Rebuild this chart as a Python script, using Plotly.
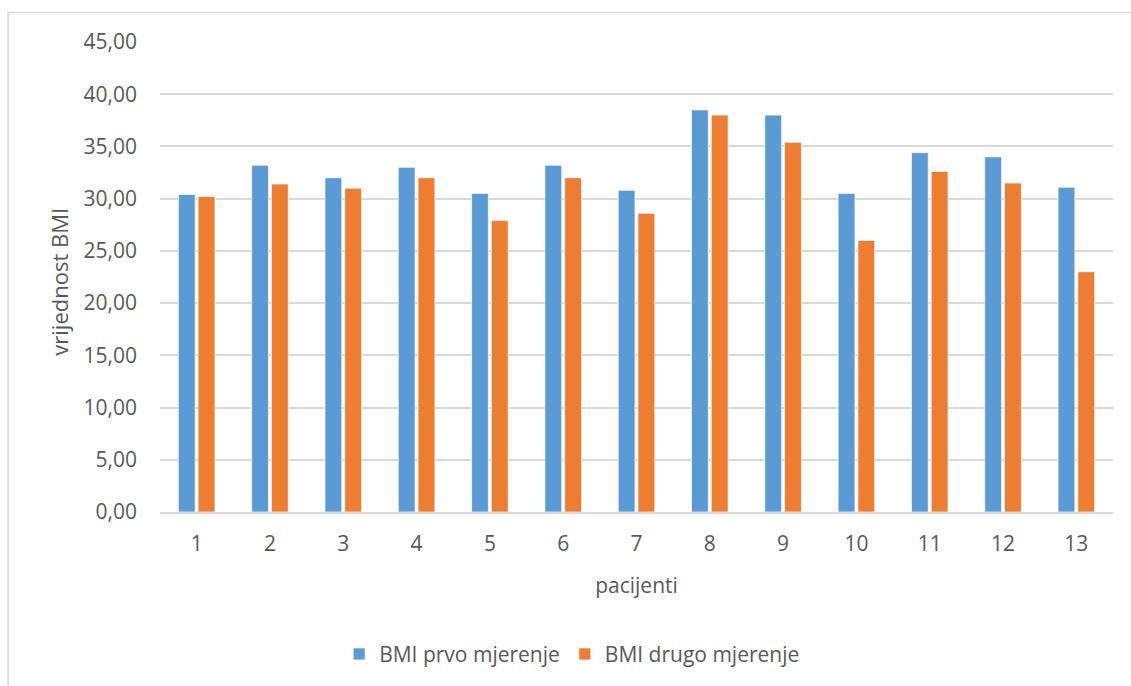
import plotly.graph_objects as go

# Patients and their BMI at the two measurements
pacijenti = ["1", "2", "3", "4", "5", "6", "7", "8", "9", "10", "11", "12", "13"]
bmi_prvo = [30.4, 33.2, 32.0, 33.0, 30.5, 33.2, 30.8, 38.5, 38.0, 30.5, 34.4, 34.0, 31.1]
bmi_drugo = [30.2, 31.4, 31.0, 32.0, 27.9, 32.0, 28.6, 38.0, 35.4, 26.0, 32.6, 31.5, 23.0]
y_ticks = [0, 5, 10, 15, 20, 25, 30, 35, 40, 45]

BLUE = "#5B9BD5"
ORANGE = "#ED7D31"
GRID = "#D9D9D9"
TEXT = "#595959"
FONT = "Open Sans"

fig = go.Figure()
fig.add_trace(go.Bar(
    x=pacijenti, y=bmi_prvo, name="BMI prvo mjerenje",
    marker=dict(color=BLUE, line=dict(color="rgba(255,255,255,0.7)", width=1)),
))
fig.add_trace(go.Bar(
    x=pacijenti, y=bmi_drugo, name="BMI drugo mjerenje",
    marker=dict(color=ORANGE, line=dict(color="rgba(255,255,255,0.7)", width=1)),
))

fig.update_layout(
    width=1131, height=686,
    margin=dict(l=160, r=18, t=42, b=173),
    paper_bgcolor="white", plot_bgcolor="white",
    separators=",.",
    barmode="group", bargap=0.46, bargroupgap=0.15,
    font=dict(family=FONT, size=21, color=TEXT),
    showlegend=True,
    legend=dict(orientation="h", x=0.188, xanchor="left", y=-0.30, yanchor="middle",
                font=dict(size=21, color=TEXT), itemwidth=30, traceorder="normal"),
    shapes=[dict(type="rect", xref="paper", yref="paper",
                 x0=-0.1594, x1=1.05, y0=-0.45, y1=1.063,
                 line=dict(color=GRID, width=1.5), layer="below")],
    # y-axis title placed as rotated text left of the tick labels
    annotations=[dict(text="vrijednost BMI", xref="paper", yref="paper",
                      x=-0.106, y=0.49, xanchor="center", yanchor="middle",
                      textangle=-90, showarrow=False,
                      font=dict(size=22, color=TEXT))],
)

fig.update_xaxes(
    type="category", showgrid=False, showline=True, linecolor=GRID, linewidth=1.5,
    ticks="", ticklabelstandoff=12, tickfont=dict(size=21, color=TEXT),
    title=dict(text="pacijenti", font=dict(size=21, color=TEXT), standoff=22),
)
fig.update_yaxes(
    range=[0, 45], tickvals=y_ticks, tickformat=".2f",
    showgrid=True, gridcolor=GRID, gridwidth=1.5, zeroline=False,
    showline=False, ticks="", ticklabelstandoff=22,
    tickfont=dict(size=21, color=TEXT),
)

fig.write_html("out.html")
